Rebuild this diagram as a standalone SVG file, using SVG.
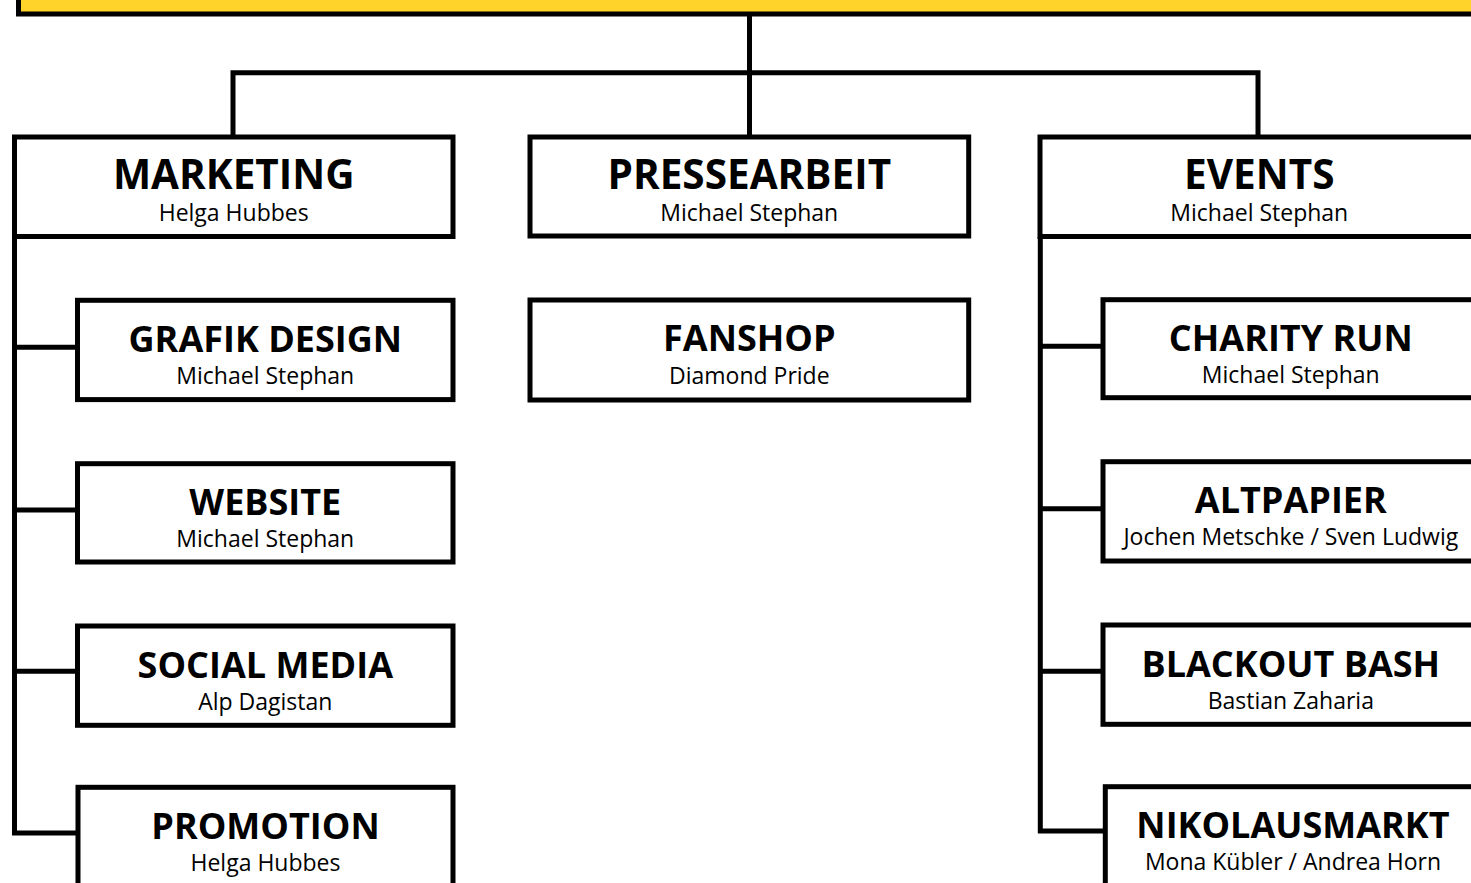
<svg xmlns="http://www.w3.org/2000/svg" width="1471" height="883" viewBox="0 0 1471 883">
<style>
.box{fill:#fff;stroke:#000;stroke-width:5}
.ln{fill:none;stroke:#000;stroke-width:5;stroke-linejoin:miter}
.t{font-family:"Open Sans","Liberation Sans",sans-serif;font-weight:bold;text-anchor:middle;fill:#000}
.t1{font-size:40.5px}
.t2{font-size:36px}
.s{font-family:"Open Sans","Liberation Sans",sans-serif;font-size:23px;text-anchor:middle;fill:#000}
</style>
<rect width="1471" height="883" fill="#fff"/>
<g id="top">
<rect x="18.5" y="-60" width="1500" height="74" fill="#FFD32A" stroke="#000" stroke-width="5"/>
</g>
<g id="connectors">
<path class="ln" d="M749.5 14 V137"/>
<path class="ln" d="M233 137 V72.7 H1258 V137"/>
<path class="ln" d="M14.5 236.7 V833 H78"/>
<path class="ln" d="M14.5 347.3 H77.5 M14.5 510 H77.5 M14.5 671.3 H77.5"/>
<path class="ln" d="M1040.3 236.7 V831 H1105"/>
<path class="ln" d="M1040.3 346.3 H1103 M1040.3 508.7 H1103 M1040.3 671.3 H1103"/>
</g>
<g id="marketing">
<rect class="box" x="14.5" y="137" width="438.5" height="99.5"/>
<text class="t t1" x="233.7" y="188.7">MARKETING</text>
<text class="s" x="233.7" y="221.3">Helga Hubbes</text>
</g>
<g id="pressearbeit">
<rect class="box" x="530" y="137" width="438.7" height="99"/>
<text class="t t1" x="749.3" y="188.7">PRESSEARBEIT</text>
<text class="s" x="749.3" y="221.3">Michael Stephan</text>
</g>
<g id="events">
<rect class="box" x="1040" y="137" width="438.5" height="99.5"/>
<text class="t t1" x="1259.3" y="188.7">EVENTS</text>
<text class="s" x="1259.3" y="221.3">Michael Stephan</text>
</g>
<g id="fanshop">
<rect class="box" x="530" y="300" width="438.7" height="100"/>
<text class="t t2" x="749.3" y="350.5">FANSHOP</text>
<text class="s" x="749.3" y="384">Diamond Pride</text>
</g>
<g id="grafik-design">
<rect class="box" x="77.5" y="300.3" width="375.5" height="99.3"/>
<text class="t t2" x="265.3" y="352">GRAFIK DESIGN</text>
<text class="s" x="265.3" y="384">Michael Stephan</text>
</g>
<g id="website">
<rect class="box" x="77.5" y="463.7" width="375.5" height="98.3"/>
<text class="t t2" x="265.3" y="515.4">WEBSITE</text>
<text class="s" x="265.3" y="547.4">Michael Stephan</text>
</g>
<g id="social-media">
<rect class="box" x="77.5" y="626" width="375.5" height="99.3"/>
<text class="t t2" x="265.3" y="677.7">SOCIAL MEDIA</text>
<text class="s" x="265.3" y="709.7">Alp Dagistan</text>
</g>
<g id="promotion">
<rect class="box" x="78" y="787.3" width="375" height="99.3"/>
<text class="t t2" x="265.5" y="839">PROMOTION</text>
<text class="s" x="265.5" y="871">Helga Hubbes</text>
</g>
<g id="charity-run">
<rect class="box" x="1103" y="299.7" width="375.5" height="98"/>
<text class="t t2" x="1290.8" y="351.4">CHARITY RUN</text>
<text class="s" x="1290.8" y="383.4">Michael Stephan</text>
</g>
<g id="altpapier">
<rect class="box" x="1103" y="461.7" width="375.5" height="99.3"/>
<text class="t t2" x="1290.8" y="513.4">ALTPAPIER</text>
<text class="s" x="1290.8" y="545.4">Jochen Metschke / Sven Ludwig</text>
</g>
<g id="blackout-bash">
<rect class="box" x="1103" y="625" width="375.5" height="99.3"/>
<text class="t t2" x="1290.8" y="676.7">BLACKOUT BASH</text>
<text class="s" x="1290.8" y="708.7">Bastian Zaharia</text>
</g>
<g id="nikolausmarkt">
<rect class="box" x="1105.3" y="786.7" width="375" height="99.3"/>
<text class="t t2" x="1293" y="838.4">NIKOLAUSMARKT</text>
<text class="s" x="1293" y="870.4">Mona Kübler / Andrea Horn</text>
</g>
</svg>
